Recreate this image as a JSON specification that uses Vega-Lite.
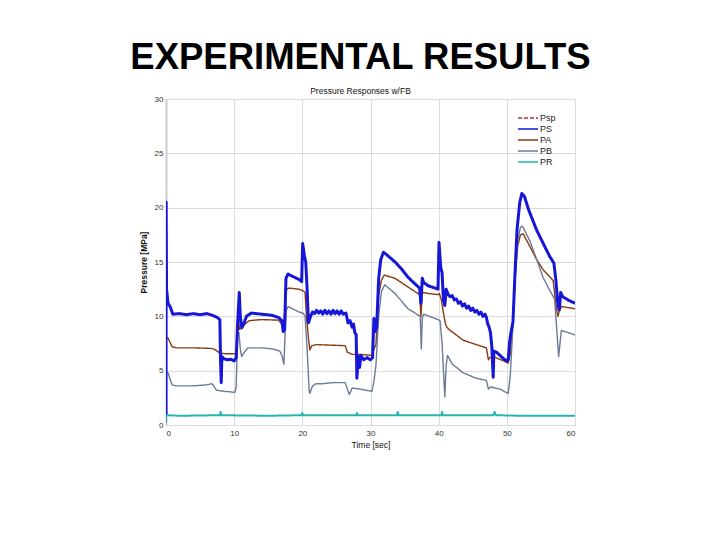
{
  "$schema": "https://vega.github.io/schema/vega-lite/v6.json",
  "width": 409,
  "height": 326,
  "autosize": {"type": "none"},
  "padding": {"left": 166, "top": 99, "right": 145, "bottom": 115},
  "background": "white",
  "title": {
    "text": "EXPERIMENTAL RESULTS",
    "subtitle": "Pressure Responses w/FB",
    "font": "Liberation Sans",
    "fontSize": 36.5,
    "fontWeight": "bold",
    "color": "#000000",
    "subtitleFont": "Liberation Sans",
    "subtitleFontSize": 8.5,
    "subtitleColor": "#111111",
    "subtitlePadding": 10,
    "offset": 0,
    "anchor": "middle",
    "dx": -10
  },
  "config": {
    "font": "Liberation Sans",
    "view": {"stroke": null},
    "axis": {
      "labelFont": "Liberation Sans",
      "labelFontSize": 8,
      "labelColor": "#333333",
      "titleFont": "Liberation Sans",
      "titleFontSize": 8.5,
      "titleFontWeight": "normal",
      "titleColor": "#111111",
      "gridColor": "#dcdcdc",
      "gridWidth": 1,
      "ticks": false
    },
    "legend": {
      "labelFont": "Liberation Sans",
      "labelFontSize": 9,
      "labelColor": "#222222",
      "symbolType": "M-2,0H2",
      "symbolStrokeWidth": 1.6,
      "symbolSize": 100,
      "rowPadding": 0,
      "labelOffset": 6
    }
  },
  "data": {
    "values": [
      {"s": "PS", "t": 0, "p": 1.0},
      {"s": "PS", "t": 0.02, "p": 20.5},
      {"s": "PS", "t": 0.08, "p": 12.5},
      {"s": "PS", "t": 0.3, "p": 11.2},
      {"s": "PS", "t": 0.6, "p": 10.9},
      {"s": "PS", "t": 1.0, "p": 10.2},
      {"s": "PS", "t": 2, "p": 10.25},
      {"s": "PS", "t": 3, "p": 10.15},
      {"s": "PS", "t": 4, "p": 10.25},
      {"s": "PS", "t": 5, "p": 10.15},
      {"s": "PS", "t": 6, "p": 10.25},
      {"s": "PS", "t": 6.8, "p": 10.1},
      {"s": "PS", "t": 7.5, "p": 9.9},
      {"s": "PS", "t": 7.9, "p": 9.7},
      {"s": "PS", "t": 8.0, "p": 6.0},
      {"s": "PS", "t": 8.1, "p": 3.9},
      {"s": "PS", "t": 8.2, "p": 6.3},
      {"s": "PS", "t": 8.5, "p": 6.1},
      {"s": "PS", "t": 9, "p": 6.0},
      {"s": "PS", "t": 9.5, "p": 6.05},
      {"s": "PS", "t": 10.0, "p": 5.9},
      {"s": "PS", "t": 10.3, "p": 6.2},
      {"s": "PS", "t": 10.5, "p": 9.3},
      {"s": "PS", "t": 10.75, "p": 12.2},
      {"s": "PS", "t": 10.9, "p": 10.0},
      {"s": "PS", "t": 11.1, "p": 9.0},
      {"s": "PS", "t": 11.4, "p": 9.3},
      {"s": "PS", "t": 11.8, "p": 10.0},
      {"s": "PS", "t": 12.5, "p": 10.3},
      {"s": "PS", "t": 14, "p": 10.2},
      {"s": "PS", "t": 15.5, "p": 10.1},
      {"s": "PS", "t": 16.5, "p": 9.9},
      {"s": "PS", "t": 17.0, "p": 9.6},
      {"s": "PS", "t": 17.2, "p": 8.6},
      {"s": "PS", "t": 17.4, "p": 8.8},
      {"s": "PS", "t": 17.6, "p": 13.5},
      {"s": "PS", "t": 17.9, "p": 13.9},
      {"s": "PS", "t": 18.5, "p": 13.7},
      {"s": "PS", "t": 19.5, "p": 13.4},
      {"s": "PS", "t": 19.9, "p": 13.2},
      {"s": "PS", "t": 20.05, "p": 16.7},
      {"s": "PS", "t": 20.3, "p": 15.6},
      {"s": "PS", "t": 20.5, "p": 15.0},
      {"s": "PS", "t": 20.7, "p": 12.5},
      {"s": "PS", "t": 20.9, "p": 9.4},
      {"s": "PS", "t": 21.2, "p": 10.0},
      {"s": "PS", "t": 21.5, "p": 10.4},
      {"s": "PS", "t": 21.8, "p": 10.25},
      {"s": "PS", "t": 22.1, "p": 10.55},
      {"s": "PS", "t": 22.4, "p": 10.3},
      {"s": "PS", "t": 22.7, "p": 10.5},
      {"s": "PS", "t": 23.0, "p": 10.2},
      {"s": "PS", "t": 23.3, "p": 10.55},
      {"s": "PS", "t": 23.6, "p": 10.25},
      {"s": "PS", "t": 23.9, "p": 10.5},
      {"s": "PS", "t": 24.2, "p": 10.2},
      {"s": "PS", "t": 24.5, "p": 10.55},
      {"s": "PS", "t": 24.8, "p": 10.25},
      {"s": "PS", "t": 25.1, "p": 10.5},
      {"s": "PS", "t": 25.4, "p": 10.2},
      {"s": "PS", "t": 25.7, "p": 10.5},
      {"s": "PS", "t": 26.0, "p": 10.2},
      {"s": "PS", "t": 26.4, "p": 10.3},
      {"s": "PS", "t": 26.7, "p": 9.4},
      {"s": "PS", "t": 27.0, "p": 9.6},
      {"s": "PS", "t": 27.3, "p": 9.0},
      {"s": "PS", "t": 27.5, "p": 9.3},
      {"s": "PS", "t": 27.7, "p": 8.5},
      {"s": "PS", "t": 27.9, "p": 8.3},
      {"s": "PS", "t": 28.0, "p": 4.3},
      {"s": "PS", "t": 28.2, "p": 6.3},
      {"s": "PS", "t": 28.4, "p": 5.3},
      {"s": "PS", "t": 28.6, "p": 6.4},
      {"s": "PS", "t": 29, "p": 6.0},
      {"s": "PS", "t": 29.5, "p": 6.2},
      {"s": "PS", "t": 30.0, "p": 6.0},
      {"s": "PS", "t": 30.3, "p": 6.2},
      {"s": "PS", "t": 30.5, "p": 9.8},
      {"s": "PS", "t": 30.7, "p": 8.6},
      {"s": "PS", "t": 30.9, "p": 9.0},
      {"s": "PS", "t": 31.2, "p": 13.5},
      {"s": "PS", "t": 31.5, "p": 15.2},
      {"s": "PS", "t": 31.9, "p": 15.9},
      {"s": "PS", "t": 32.5, "p": 15.6},
      {"s": "PS", "t": 33.6, "p": 15.0},
      {"s": "PS", "t": 34.5, "p": 14.4},
      {"s": "PS", "t": 35.5, "p": 13.6},
      {"s": "PS", "t": 36.5, "p": 13.0},
      {"s": "PS", "t": 37.2, "p": 12.6},
      {"s": "PS", "t": 37.4, "p": 11.2},
      {"s": "PS", "t": 37.6, "p": 13.5},
      {"s": "PS", "t": 37.8, "p": 13.1},
      {"s": "PS", "t": 38.5, "p": 12.8},
      {"s": "PS", "t": 39.5, "p": 12.6},
      {"s": "PS", "t": 39.9, "p": 12.5},
      {"s": "PS", "t": 40.05, "p": 16.8},
      {"s": "PS", "t": 40.3, "p": 14.5},
      {"s": "PS", "t": 40.5, "p": 14.0},
      {"s": "PS", "t": 40.7, "p": 11.5},
      {"s": "PS", "t": 40.9, "p": 11.0},
      {"s": "PS", "t": 41.1, "p": 12.5},
      {"s": "PS", "t": 41.4, "p": 12.0},
      {"s": "PS", "t": 41.7, "p": 11.8},
      {"s": "PS", "t": 42.0, "p": 11.9},
      {"s": "PS", "t": 42.3, "p": 11.5},
      {"s": "PS", "t": 42.6, "p": 11.6},
      {"s": "PS", "t": 42.9, "p": 11.2},
      {"s": "PS", "t": 43.2, "p": 11.35},
      {"s": "PS", "t": 43.5, "p": 10.95},
      {"s": "PS", "t": 43.8, "p": 11.15},
      {"s": "PS", "t": 44.1, "p": 10.75},
      {"s": "PS", "t": 44.4, "p": 10.95},
      {"s": "PS", "t": 44.7, "p": 10.55},
      {"s": "PS", "t": 45.0, "p": 10.75},
      {"s": "PS", "t": 45.3, "p": 10.4},
      {"s": "PS", "t": 45.6, "p": 10.55},
      {"s": "PS", "t": 45.9, "p": 10.2},
      {"s": "PS", "t": 46.2, "p": 10.4},
      {"s": "PS", "t": 46.5, "p": 10.0},
      {"s": "PS", "t": 46.8, "p": 10.2},
      {"s": "PS", "t": 47.0, "p": 9.9},
      {"s": "PS", "t": 47.2, "p": 9.3},
      {"s": "PS", "t": 47.4, "p": 9.0},
      {"s": "PS", "t": 47.6, "p": 8.5},
      {"s": "PS", "t": 47.8, "p": 7.2},
      {"s": "PS", "t": 48.0, "p": 4.4},
      {"s": "PS", "t": 48.1, "p": 6.8},
      {"s": "PS", "t": 48.5, "p": 6.7},
      {"s": "PS", "t": 49, "p": 6.4},
      {"s": "PS", "t": 49.5, "p": 6.1},
      {"s": "PS", "t": 50.0, "p": 5.9},
      {"s": "PS", "t": 50.2, "p": 6.0},
      {"s": "PS", "t": 50.4, "p": 7.6},
      {"s": "PS", "t": 50.6, "p": 8.5},
      {"s": "PS", "t": 50.9, "p": 9.5},
      {"s": "PS", "t": 51.2, "p": 14.0},
      {"s": "PS", "t": 51.5, "p": 18.0},
      {"s": "PS", "t": 51.9, "p": 20.5},
      {"s": "PS", "t": 52.2, "p": 21.3},
      {"s": "PS", "t": 52.6, "p": 21.0},
      {"s": "PS", "t": 53.2, "p": 19.8},
      {"s": "PS", "t": 54.4, "p": 17.9},
      {"s": "PS", "t": 55.5, "p": 16.5},
      {"s": "PS", "t": 56.3, "p": 15.5},
      {"s": "PS", "t": 56.9, "p": 14.9},
      {"s": "PS", "t": 57.2, "p": 13.3},
      {"s": "PS", "t": 57.5, "p": 11.0},
      {"s": "PS", "t": 57.7, "p": 10.6},
      {"s": "PS", "t": 57.9, "p": 12.2},
      {"s": "PS", "t": 58.2, "p": 11.8},
      {"s": "PS", "t": 59, "p": 11.5},
      {"s": "PS", "t": 60, "p": 11.2},

      {"s": "PA", "t": 0, "p": 8.1},
      {"s": "PA", "t": 0.3, "p": 8.0},
      {"s": "PA", "t": 0.6, "p": 7.6},
      {"s": "PA", "t": 0.9, "p": 7.2},
      {"s": "PA", "t": 1.5, "p": 7.1},
      {"s": "PA", "t": 4, "p": 7.1},
      {"s": "PA", "t": 6.5, "p": 7.05},
      {"s": "PA", "t": 7.0, "p": 7.0},
      {"s": "PA", "t": 7.5, "p": 6.8},
      {"s": "PA", "t": 7.9, "p": 6.6},
      {"s": "PA", "t": 9, "p": 6.55},
      {"s": "PA", "t": 10.3, "p": 6.55},
      {"s": "PA", "t": 10.5, "p": 8.5},
      {"s": "PA", "t": 10.65, "p": 9.6},
      {"s": "PA", "t": 10.8, "p": 8.8},
      {"s": "PA", "t": 11.2, "p": 8.9},
      {"s": "PA", "t": 11.6, "p": 9.3},
      {"s": "PA", "t": 12.2, "p": 9.6},
      {"s": "PA", "t": 14, "p": 9.7},
      {"s": "PA", "t": 16.5, "p": 9.65},
      {"s": "PA", "t": 17.0, "p": 9.3},
      {"s": "PA", "t": 17.25, "p": 8.8},
      {"s": "PA", "t": 17.6, "p": 12.4},
      {"s": "PA", "t": 18, "p": 12.6},
      {"s": "PA", "t": 19.5, "p": 12.5},
      {"s": "PA", "t": 20.1, "p": 12.35},
      {"s": "PA", "t": 20.4, "p": 12.2},
      {"s": "PA", "t": 20.6, "p": 10.0},
      {"s": "PA", "t": 20.9, "p": 8.0},
      {"s": "PA", "t": 21.1, "p": 6.9},
      {"s": "PA", "t": 21.4, "p": 7.3},
      {"s": "PA", "t": 22, "p": 7.4},
      {"s": "PA", "t": 24, "p": 7.35},
      {"s": "PA", "t": 26.3, "p": 7.3},
      {"s": "PA", "t": 26.6, "p": 6.7},
      {"s": "PA", "t": 27.0, "p": 6.6},
      {"s": "PA", "t": 27.3, "p": 6.5},
      {"s": "PA", "t": 28.5, "p": 6.5},
      {"s": "PA", "t": 30.3, "p": 6.4},
      {"s": "PA", "t": 30.5, "p": 7.0},
      {"s": "PA", "t": 30.8, "p": 7.4},
      {"s": "PA", "t": 31.2, "p": 12.0},
      {"s": "PA", "t": 31.6, "p": 13.3},
      {"s": "PA", "t": 32.0, "p": 13.8},
      {"s": "PA", "t": 33.6, "p": 13.5},
      {"s": "PA", "t": 35.5, "p": 12.7},
      {"s": "PA", "t": 37.2, "p": 12.0},
      {"s": "PA", "t": 37.4, "p": 10.0},
      {"s": "PA", "t": 37.6, "p": 12.2},
      {"s": "PA", "t": 38.5, "p": 12.1},
      {"s": "PA", "t": 39.9, "p": 12.0},
      {"s": "PA", "t": 40.1, "p": 12.1},
      {"s": "PA", "t": 40.4, "p": 11.5},
      {"s": "PA", "t": 40.7, "p": 10.3},
      {"s": "PA", "t": 41.0, "p": 9.3},
      {"s": "PA", "t": 41.2, "p": 9.0},
      {"s": "PA", "t": 41.5, "p": 8.8},
      {"s": "PA", "t": 43.6, "p": 7.8},
      {"s": "PA", "t": 45.5, "p": 7.4},
      {"s": "PA", "t": 47.0, "p": 7.1},
      {"s": "PA", "t": 47.3, "p": 6.0},
      {"s": "PA", "t": 47.5, "p": 6.2},
      {"s": "PA", "t": 48, "p": 6.3},
      {"s": "PA", "t": 49.5, "p": 5.9},
      {"s": "PA", "t": 50.2, "p": 5.7},
      {"s": "PA", "t": 50.5, "p": 6.5},
      {"s": "PA", "t": 50.8, "p": 8.5},
      {"s": "PA", "t": 51.2, "p": 13.5},
      {"s": "PA", "t": 51.6, "p": 16.5},
      {"s": "PA", "t": 52.0, "p": 17.5},
      {"s": "PA", "t": 52.4, "p": 17.6},
      {"s": "PA", "t": 53.4, "p": 16.4},
      {"s": "PA", "t": 54.4, "p": 15.2},
      {"s": "PA", "t": 55.3, "p": 14.3},
      {"s": "PA", "t": 56.8, "p": 13.3},
      {"s": "PA", "t": 57.2, "p": 11.0},
      {"s": "PA", "t": 57.5, "p": 10.0},
      {"s": "PA", "t": 57.7, "p": 10.5},
      {"s": "PA", "t": 58.0, "p": 10.9},
      {"s": "PA", "t": 60, "p": 10.7},

      {"s": "PB", "t": 0, "p": 4.9},
      {"s": "PB", "t": 0.3, "p": 4.8},
      {"s": "PB", "t": 0.6, "p": 4.2},
      {"s": "PB", "t": 0.9, "p": 3.7},
      {"s": "PB", "t": 1.5, "p": 3.6},
      {"s": "PB", "t": 4, "p": 3.6},
      {"s": "PB", "t": 6.0, "p": 3.7},
      {"s": "PB", "t": 6.7, "p": 3.8},
      {"s": "PB", "t": 7.0, "p": 3.6},
      {"s": "PB", "t": 7.4, "p": 3.2},
      {"s": "PB", "t": 8.5, "p": 3.1},
      {"s": "PB", "t": 9.5, "p": 3.05},
      {"s": "PB", "t": 10.1, "p": 3.0},
      {"s": "PB", "t": 10.3, "p": 3.5},
      {"s": "PB", "t": 10.5, "p": 8.3},
      {"s": "PB", "t": 10.7, "p": 8.5},
      {"s": "PB", "t": 10.9, "p": 7.0},
      {"s": "PB", "t": 11.1, "p": 6.3},
      {"s": "PB", "t": 11.5, "p": 6.7},
      {"s": "PB", "t": 12, "p": 7.1},
      {"s": "PB", "t": 14, "p": 7.1},
      {"s": "PB", "t": 15.7, "p": 7.0},
      {"s": "PB", "t": 16.7, "p": 6.8},
      {"s": "PB", "t": 17.0, "p": 6.4},
      {"s": "PB", "t": 17.3, "p": 5.6},
      {"s": "PB", "t": 17.6, "p": 10.5},
      {"s": "PB", "t": 17.9, "p": 10.9},
      {"s": "PB", "t": 19.5, "p": 10.4},
      {"s": "PB", "t": 20.1, "p": 10.3},
      {"s": "PB", "t": 20.4, "p": 10.0},
      {"s": "PB", "t": 20.7, "p": 7.0},
      {"s": "PB", "t": 21.0, "p": 3.2},
      {"s": "PB", "t": 21.1, "p": 2.9},
      {"s": "PB", "t": 21.5, "p": 3.6},
      {"s": "PB", "t": 22, "p": 3.8},
      {"s": "PB", "t": 23, "p": 3.8},
      {"s": "PB", "t": 24.5, "p": 3.9},
      {"s": "PB", "t": 26.3, "p": 3.9},
      {"s": "PB", "t": 26.6, "p": 3.3},
      {"s": "PB", "t": 26.9, "p": 2.8},
      {"s": "PB", "t": 27.3, "p": 3.4},
      {"s": "PB", "t": 28.5, "p": 3.3},
      {"s": "PB", "t": 30.2, "p": 3.1},
      {"s": "PB", "t": 30.5, "p": 4.0},
      {"s": "PB", "t": 30.8, "p": 5.5},
      {"s": "PB", "t": 31.2, "p": 10.0},
      {"s": "PB", "t": 31.6, "p": 12.3},
      {"s": "PB", "t": 32.1, "p": 12.9},
      {"s": "PB", "t": 33.6, "p": 12.1},
      {"s": "PB", "t": 35.5, "p": 10.7},
      {"s": "PB", "t": 37.3, "p": 10.0},
      {"s": "PB", "t": 37.45, "p": 7.0},
      {"s": "PB", "t": 37.6, "p": 9.9},
      {"s": "PB", "t": 37.8, "p": 10.2},
      {"s": "PB", "t": 39.9, "p": 9.7},
      {"s": "PB", "t": 40.2, "p": 9.6},
      {"s": "PB", "t": 40.5, "p": 7.5},
      {"s": "PB", "t": 40.9, "p": 2.6},
      {"s": "PB", "t": 41.1, "p": 5.5},
      {"s": "PB", "t": 41.3, "p": 6.4},
      {"s": "PB", "t": 42, "p": 5.6},
      {"s": "PB", "t": 43.6, "p": 4.8},
      {"s": "PB", "t": 45.5, "p": 4.3},
      {"s": "PB", "t": 47.0, "p": 4.1},
      {"s": "PB", "t": 47.3, "p": 3.3},
      {"s": "PB", "t": 47.6, "p": 3.5},
      {"s": "PB", "t": 49, "p": 3.3},
      {"s": "PB", "t": 50.2, "p": 2.9},
      {"s": "PB", "t": 50.5, "p": 4.5},
      {"s": "PB", "t": 50.8, "p": 8.0},
      {"s": "PB", "t": 51.2, "p": 13.3},
      {"s": "PB", "t": 51.6, "p": 17.0},
      {"s": "PB", "t": 52.0, "p": 18.2},
      {"s": "PB", "t": 52.3, "p": 18.3},
      {"s": "PB", "t": 53.4, "p": 16.9},
      {"s": "PB", "t": 54.4, "p": 15.2},
      {"s": "PB", "t": 55.3, "p": 13.6},
      {"s": "PB", "t": 56.2, "p": 12.5},
      {"s": "PB", "t": 57.0, "p": 11.6},
      {"s": "PB", "t": 57.3, "p": 9.0},
      {"s": "PB", "t": 57.6, "p": 6.3},
      {"s": "PB", "t": 57.8, "p": 7.5},
      {"s": "PB", "t": 58.0, "p": 8.7},
      {"s": "PB", "t": 59, "p": 8.5},
      {"s": "PB", "t": 60, "p": 8.3},

      {"s": "PR", "t": 0, "p": 0.2},
      {"s": "PR", "t": 0.02, "p": 1.2},
      {"s": "PR", "t": 0.1, "p": 0.9},
      {"s": "PR", "t": 2, "p": 0.85},
      {"s": "PR", "t": 7.9, "p": 0.9},
      {"s": "PR", "t": 8.0, "p": 1.2},
      {"s": "PR", "t": 8.1, "p": 0.9},
      {"s": "PR", "t": 15, "p": 0.85},
      {"s": "PR", "t": 19.9, "p": 0.9},
      {"s": "PR", "t": 20.0, "p": 1.1},
      {"s": "PR", "t": 20.1, "p": 0.9},
      {"s": "PR", "t": 27.9, "p": 0.9},
      {"s": "PR", "t": 28.0, "p": 1.1},
      {"s": "PR", "t": 28.1, "p": 0.9},
      {"s": "PR", "t": 33.9, "p": 0.9},
      {"s": "PR", "t": 34.0, "p": 1.2},
      {"s": "PR", "t": 34.1, "p": 0.9},
      {"s": "PR", "t": 40.4, "p": 0.9},
      {"s": "PR", "t": 40.5, "p": 1.2},
      {"s": "PR", "t": 40.6, "p": 0.9},
      {"s": "PR", "t": 48.0, "p": 0.9},
      {"s": "PR", "t": 48.2, "p": 1.2},
      {"s": "PR", "t": 48.4, "p": 0.9},
      {"s": "PR", "t": 52, "p": 0.85},
      {"s": "PR", "t": 60, "p": 0.85}
    ]
  },
  "encoding": {
    "x": {
      "field": "t",
      "type": "quantitative",
      "title": "Time [sec]",
      "scale": {"domain": [0, 60], "nice": false},
      "axis": {"values": [0, 10, 20, 30, 40, 50, 60], "domain": false, "labelPadding": 4, "titlePadding": 3, "grid": true}
    },
    "y": {
      "field": "p",
      "type": "quantitative",
      "title": "Pressure [MPa]",
      "scale": {"domain": [0, 30], "nice": false},
      "axis": {"values": [0, 5, 10, 15, 20, 25, 30], "domain": true, "domainColor": "#cccccc", "domainWidth": 2, "labelPadding": 3, "titlePadding": 6, "titleFontWeight": "bold"}
    },
    "color": {
      "field": "s",
      "type": "nominal",
      "title": null,
      "scale": {
        "domain": ["Psp", "PS", "PA", "PB", "PR"],
        "range": ["#b03030", "#1616d8", "#8a3a12", "#6b7b96", "#25b5b0"]
      },
      "legend": {"orient": "none", "legendX": 356, "legendY": 13}
    },
    "strokeDash": {
      "field": "s",
      "type": "nominal",
      "title": null,
      "scale": {
        "domain": ["Psp", "PS", "PA", "PB", "PR"],
        "range": [[4, 2], [1, 0], [1, 0], [1, 0], [1, 0]]
      }
    }
  },
  "layer": [
    {
      "transform": [{"filter": "datum.s === 'PR'"}],
      "mark": {"type": "line", "clip": true, "strokeJoin": "round", "strokeWidth": 2}
    },
    {
      "transform": [{"filter": "datum.s === 'PB' || datum.s === 'PA'"}],
      "mark": {"type": "line", "clip": true, "strokeJoin": "round", "strokeWidth": 1.4}
    },
    {
      "transform": [{"filter": "datum.s === 'PS'"}],
      "mark": {"type": "line", "clip": true, "strokeJoin": "round", "strokeWidth": 3}
    }
  ]
}
